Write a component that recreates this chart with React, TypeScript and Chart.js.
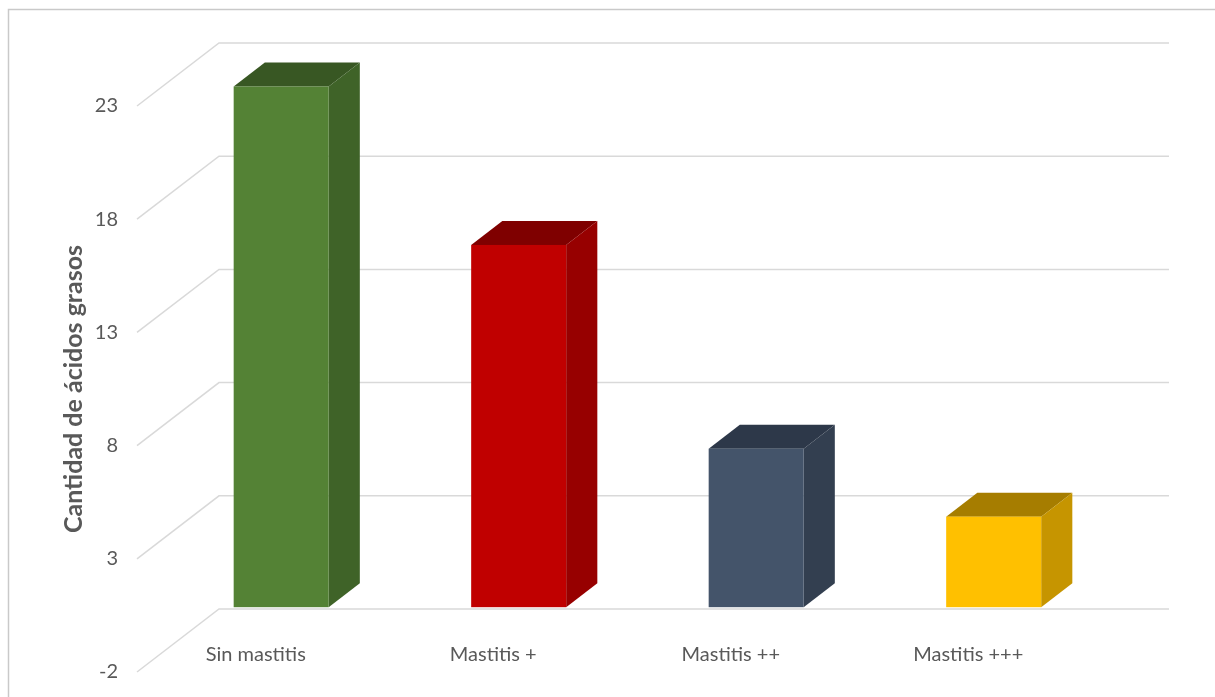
import { useEffect, useRef } from "react";
import { Chart, registerables } from "chart.js";

Chart.register(...registerables);

const categories = ["Sin mastitis", "Mastitis +", "Mastitis ++", "Mastitis +++"];
const values = [23, 16, 7, 4];
const frontColors = ["#548235", "#C00000", "#44546A", "#FFC000"];
const topColors = ["#385723", "#7F0000", "#2D3849", "#A67D00"];
const sideColors = ["#3F6328", "#970000", "#333F50", "#C69500"];
const yTicks = [-2, 3, 8, 13, 18, 23];
const yTitle = "Cantidad de ácidos grasos";

const DEPTH_X = 82;
const DEPTH_Y = -63;
const FRONT = 0.31;
const BACK = 0.69;
const GRID = "#D9D9D9";
const TEXT = "#595959";
const FONT = "Lato, 'Noto Sans', sans-serif";

const depthPlugin = {
  id: "depth3d",
  beforeDraw(chart: any) {
    const { ctx, width, height } = chart;
    ctx.save();
    ctx.fillStyle = "#ffffff";
    ctx.fillRect(0, 0, width, height);
    ctx.strokeStyle = "#C9C9C9";
    ctx.lineWidth = 1.5;
    ctx.strokeRect(8.5, 9.5, width + 20, height + 20);
    ctx.restore();
  },
  beforeDatasetsDraw(chart: any) {
    const { ctx, chartArea } = chart;
    const y = chart.scales.y;
    ctx.save();
    ctx.strokeStyle = GRID;
    ctx.lineWidth = 1.5;
    y.ticks.forEach((t: any) => {
      const py = y.getPixelForValue(t.value);
      ctx.beginPath();
      ctx.moveTo(chartArea.left, py);
      ctx.lineTo(chartArea.left + DEPTH_X, py + DEPTH_Y);
      ctx.lineTo(chartArea.right + DEPTH_X, py + DEPTH_Y);
      ctx.stroke();
    });
    ctx.restore();
  },
  afterDatasetsDraw(chart: any) {
    const { ctx, chartArea } = chart;
    const meta = chart.getDatasetMeta(0);
    const fdx = FRONT * DEPTH_X;
    const fdy = FRONT * DEPTH_Y;
    const bdx = (BACK - FRONT) * DEPTH_X;
    const bdy = (BACK - FRONT) * DEPTH_Y;
    ctx.save();
    meta.data.forEach((bar: any, i: number) => {
      const { x, y, base, width } = bar.getProps(["x", "y", "base", "width"], true);
      const l = x - width / 2 + fdx;
      const r = x + width / 2 + fdx;
      const t = y + fdy;
      const b = base + fdy;
      ctx.fillStyle = topColors[i];
      ctx.beginPath();
      ctx.moveTo(l, t);
      ctx.lineTo(r, t);
      ctx.lineTo(r + bdx, t + bdy);
      ctx.lineTo(l + bdx, t + bdy);
      ctx.closePath();
      ctx.fill();
      ctx.fillStyle = sideColors[i];
      ctx.beginPath();
      ctx.moveTo(r, t);
      ctx.lineTo(r + bdx, t + bdy);
      ctx.lineTo(r + bdx, b + bdy);
      ctx.lineTo(r, b);
      ctx.closePath();
      ctx.fill();
      ctx.fillStyle = frontColors[i];
      ctx.fillRect(l, t, r - l, b - t);
    });
    const xs = chart.scales.x;
    ctx.fillStyle = TEXT;
    ctx.font = `20px ${FONT}`;
    ctx.textAlign = "center";
    ctx.textBaseline = "middle";
    categories.forEach((c, i) => {
      ctx.fillText(c, xs.getPixelForValue(i), chartArea.bottom - 17);
    });
    ctx.restore();
  },
};

export default function App() {
  const ref = useRef<HTMLCanvasElement>(null);
  useEffect(() => {
    if (!ref.current) return;
    const chart = new Chart(ref.current, {
      type: "bar",
      data: {
        labels: categories,
        datasets: [
          {
            data: values,
            backgroundColor: "rgba(0,0,0,0)",
            borderWidth: 0,
            barPercentage: 0.4,
            categoryPercentage: 1,
          },
        ],
      },
      options: {
        animation: false,
        responsive: false,
        devicePixelRatio: 1,
        layout: { padding: { left: 50, top: 106, right: 128, bottom: 25 } },
        plugins: { legend: { display: false }, tooltip: { enabled: false } },
        scales: {
          x: { display: false, grid: { display: false } },
          y: {
            min: -2,
            max: 23,
            grid: { display: false, drawTicks: false },
            border: { display: false },
            afterBuildTicks: (s: any) => {
              s.ticks = yTicks.map((v) => ({ value: v }));
            },
            afterFit: (s: any) => {
              s.width = 87;
              s.paddingTop = 0;
              s.paddingBottom = 0;
            },
            ticks: {
              padding: 19,
              color: TEXT,
              font: { family: FONT, size: 20 },
            },
            title: {
              display: true,
              text: yTitle,
              color: TEXT,
              font: { family: FONT, size: 25, weight: "bold" },
              padding: { top: 9, bottom: 0 },
            },
          },
        },
      },
      plugins: [depthPlugin],
    });
    return () => chart.destroy();
  }, []);
  return (
    <div style={{ position: "fixed", left: 0, top: 0, width: 1215, height: 697, background: "#fff" }}>
      <canvas ref={ref} width={1215} height={697} style={{ display: "block" }} />
    </div>
  );
}
